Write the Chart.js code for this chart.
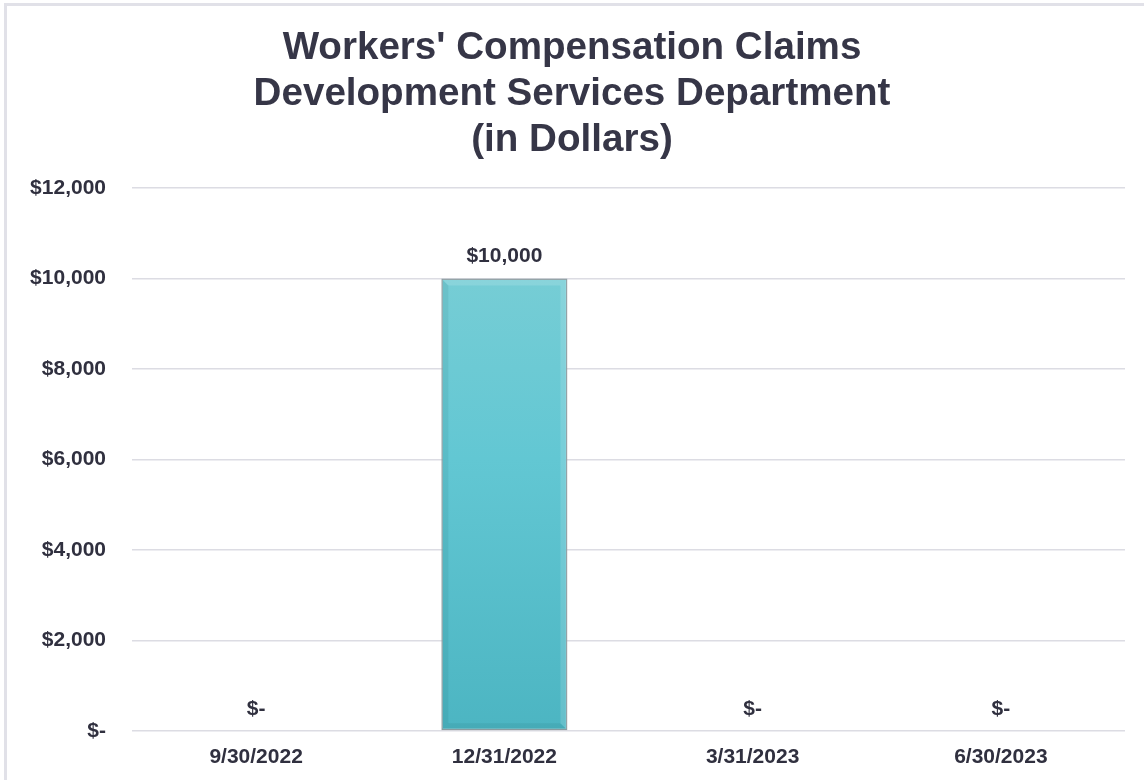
<!DOCTYPE html>
<html>
<head>
<meta charset="utf-8">
<title>Workers' Compensation Claims</title>
<script src="https://cdn.jsdelivr.net/npm/chart.js@4"></script>
<style>
    html, body { margin: 0; padding: 0; background: #ffffff; }
    #frame {
        position: absolute; left: 4px; top: 3px; width: 1160px; height: 800px;
        border-left: 3px solid #e1e1e8; border-top: 3px solid #e1e1e8;
    }
    #wrap { position: absolute; left: 0; top: 0; width: 1144px; height: 780px; }
</style>
</head>
<body>
<div id="frame"></div>
<div id="wrap"><canvas id="myChart" width="1144" height="780"></canvas></div>
<script>
const quarters = ['9/30/2022', '12/31/2022', '3/31/2023', '6/30/2023'];
const claimDollars = [0, 10000, 0, 0];
const yTicks = [0, 2000, 4000, 6000, 8000, 10000, 12000];
const titleLines = ["Workers' Compensation Claims", 'Development Services Department', '(in Dollars)'];

const textColor = '#30303f';
const fontFamily = '"Liberation Sans", Arial, sans-serif';

function formatDollars(v) {
    if (v === 0) return '$-';
    return '$' + v.toLocaleString('en-US');
}

function barGradient(context) {
    let chart = context.chart;
    let area = chart.chartArea;
    if (!area) return '#5fc4cc';
    let g = chart.ctx.createLinearGradient(0, area.top, 0, area.bottom);
    g.addColorStop(0, '#80d0d6');
    g.addColorStop(0.5, '#62c7d3');
    g.addColorStop(1, '#4cb5c2');
    return g;
}

// light/dark edges on each bar so it looks raised
const bevelPlugin = {
    id: 'bevel',
    afterDatasetsDraw(chart) {
        let ctx = chart.ctx;
        chart.getDatasetMeta(0).data.forEach((bar, i) => {
            if (!claimDollars[i]) return;
            let left = bar.x - bar.width / 2;
            let right = bar.x + bar.width / 2;
            let top = bar.y;
            let bottom = bar.base;
            let e = 6;
            ctx.save();
            ctx.fillStyle = 'rgba(255,255,255,0.14)';
            ctx.beginPath();
            ctx.moveTo(left + 1, top + 1); ctx.lineTo(right - 1, top + 1);
            ctx.lineTo(right - 1 - e, top + 1 + e); ctx.lineTo(left + 1 + e, top + 1 + e);
            ctx.closePath(); ctx.fill();
            ctx.beginPath();
            ctx.moveTo(right - 1, top + 1); ctx.lineTo(right - 1, bottom - 1);
            ctx.lineTo(right - 1 - e, bottom - 1 - e); ctx.lineTo(right - 1 - e, top + 1 + e);
            ctx.closePath(); ctx.fill();
            ctx.fillStyle = 'rgba(0,60,70,0.08)';
            ctx.beginPath();
            ctx.moveTo(left + 1, top + 1); ctx.lineTo(left + 1 + e, top + 1 + e);
            ctx.lineTo(left + 1 + e, bottom - 1 - e); ctx.lineTo(left + 1, bottom - 1);
            ctx.closePath(); ctx.fill();
            ctx.beginPath();
            ctx.moveTo(left + 1, bottom - 1); ctx.lineTo(right - 1, bottom - 1);
            ctx.lineTo(right - 1 - e, bottom - 1 - e); ctx.lineTo(left + 1 + e, bottom - 1 - e);
            ctx.closePath(); ctx.fill();
            ctx.restore();
        });
    }
};

// value labels above each bar
const valueLabels = {
    id: 'valueLabels',
    afterDatasetsDraw(chart) {
        let ctx = chart.ctx;
        ctx.save();
        ctx.font = 'bold 21px ' + fontFamily;
        ctx.fillStyle = textColor;
        ctx.textAlign = 'center';
        ctx.textBaseline = 'middle';
        chart.getDatasetMeta(0).data.forEach((bar, i) => {
            ctx.fillText(formatDollars(claimDollars[i]), bar.x, bar.y - 22);
        });
        ctx.restore();
    }
};

new Chart(document.getElementById('myChart').getContext('2d'), {
    type: 'bar',
    data: {
        labels: quarters,
        datasets: [{
            data: claimDollars,
            backgroundColor: barGradient,
            borderColor: '#8d9ea2',
            borderWidth: 1.5,
            borderSkipped: false,
            categoryPercentage: 1,
            barPercentage: 0.508
        }]
    },
    options: {
        responsive: false,
        animation: false,
        layout: { padding: 0 },
        plugins: {
            legend: { display: false },
            tooltip: { enabled: false },
            title: {
                display: true,
                text: titleLines,
                color: '#363647',
                font: { family: fontFamily, size: 38.6, weight: 'bold', lineHeight: 1.2 },
                padding: { top: 25, bottom: 24 }
            }
        },
        scales: {
            x: {
                grid: { display: false },
                border: { display: false },
                ticks: {
                    color: textColor,
                    font: { family: fontFamily, size: 21, weight: 'bold' },
                    padding: 6
                },
                afterFit(scale) { scale.height = 49; }
            },
            y: {
                min: 0,
                max: 12000,
                border: { display: false },
                grid: { color: '#dcdce3', lineWidth: 1.5, drawTicks: false },
                afterBuildTicks(scale) { scale.ticks = yTicks.map(v => ({ value: v })); },
                afterFit(scale) { scale.width = 132; },
                ticks: {
                    color: textColor,
                    font: { family: fontFamily, size: 21, weight: 'bold' },
                    padding: 26,
                    callback: v => formatDollars(v)
                }
            },
            // empty strip on the right so the plot stops short of the edge
            yRight: {
                position: 'right',
                min: 0,
                max: 12000,
                grid: { display: false },
                border: { display: false },
                ticks: { display: false },
                afterFit(scale) { scale.width = 19; }
            }
        }
    },
    plugins: [bevelPlugin, valueLabels]
});
</script>
</body>
</html>
